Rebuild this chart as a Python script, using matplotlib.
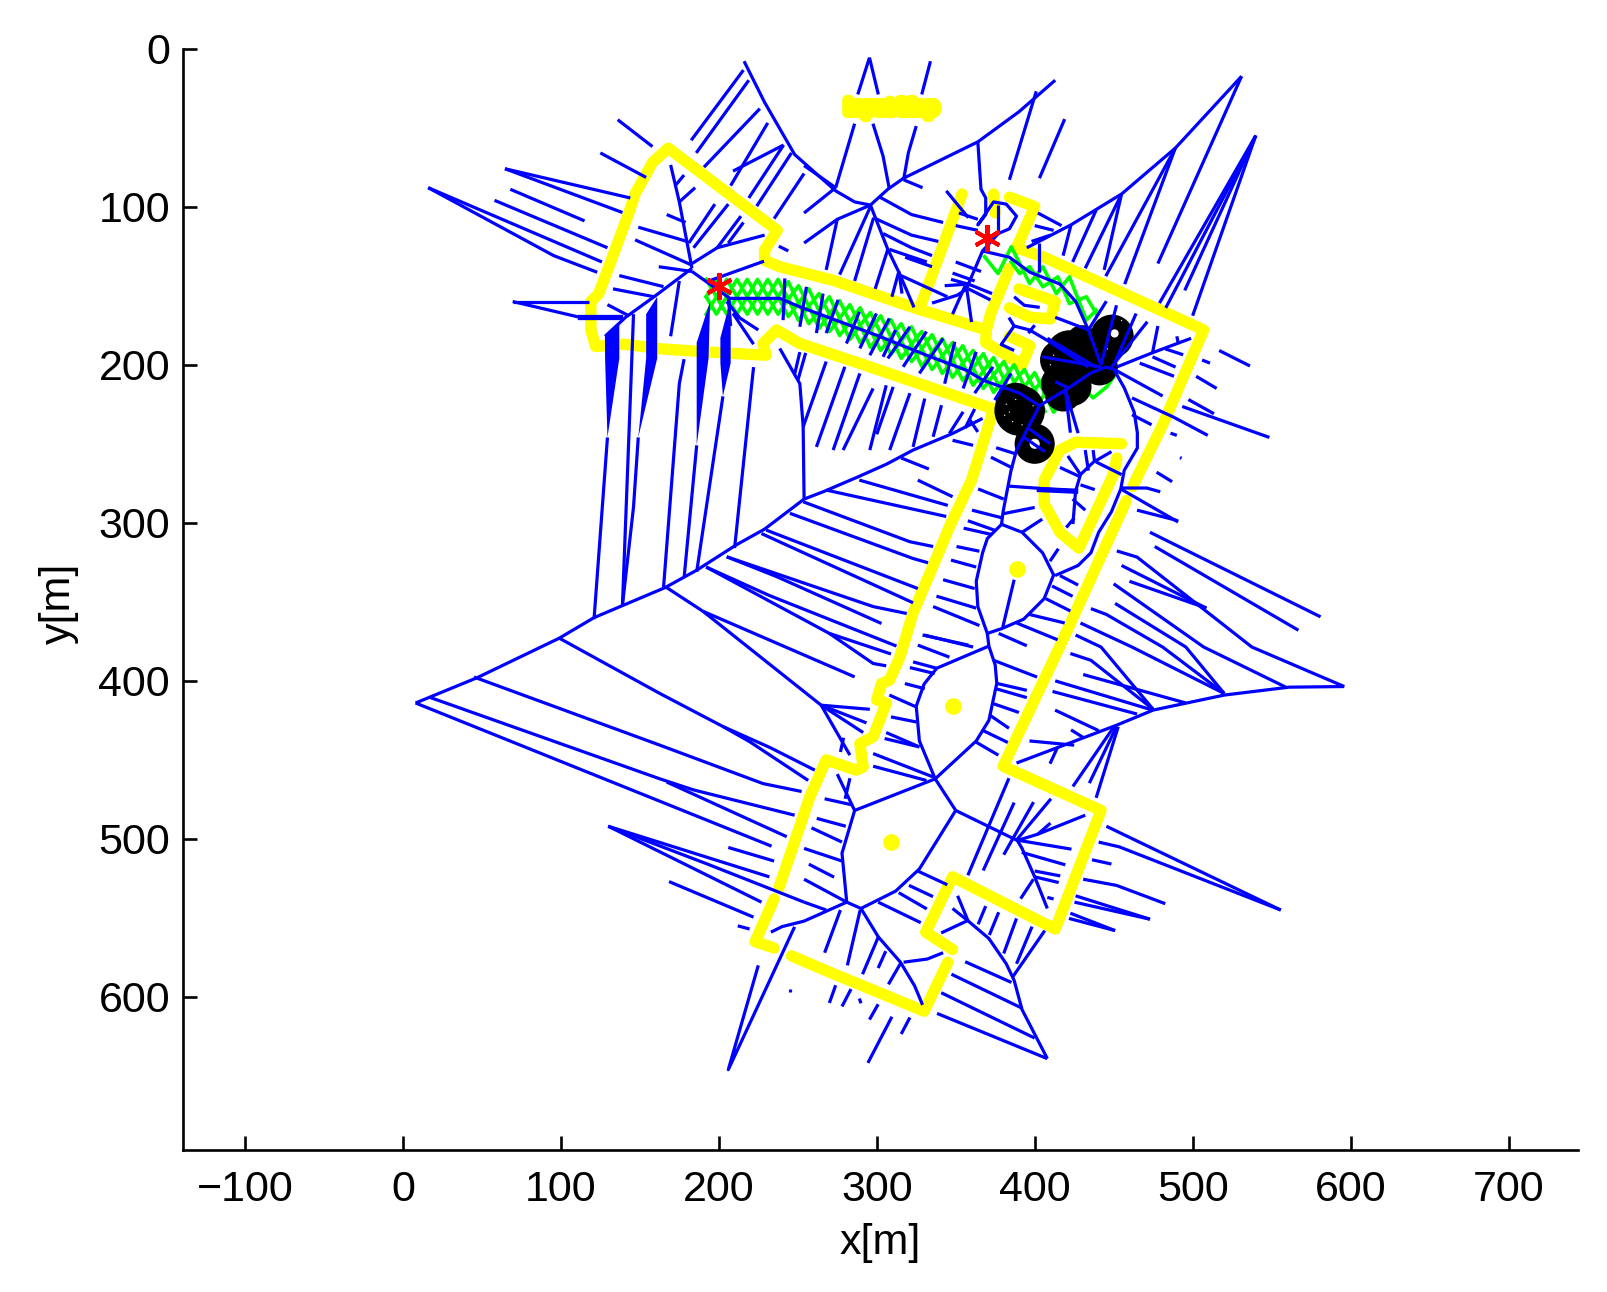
import matplotlib
matplotlib.use("Agg")
import matplotlib.pyplot as plt
import matplotlib.patheffects as pe
from matplotlib.patches import Circle

plt.rcParams['font.family'] = ['Liberation Sans', 'DejaVu Sans']

x_ticks = [-100, 0, 100, 200, 300, 400, 500, 600, 700]
y_ticks = [0, 100, 200, 300, 400, 500, 600]

# Walls seen by the sensor (yellow), one list per connected run
walls = [
    [(229,127.5),(237,115),(168,63),(158,72),(147,92),(143,104),(124,155),(119,160),(119,178),(122,188.5),(140,187),(164,190),(194,192),(230,194),(228,186.6),(236.5,178),(251.3,186.6),(289.3,199.2),(374,228),(360,273),(346,302.5),(340,317),(323,357),(314.6,385),(308,399.6),(303,401.7),(300,412),(306,414),(297.7,435.4),(289.3,439.7),(291.4,454.4),(287,456.5),(268,450),(257.6,473.4),(238,531)],
    [(229,127.5),(229,134),(238.6,138),(272,146.5),(325,164.4),(369.4,178),(369,186),(392,200),(397,188),(384,182)],
    [(328,162),(354,92)],
    [(374,92),(375,104)],
    [(384,94),(400,100),(388.5,126),(406,132),(507,178),(481,238),(462,277)],
    [(458,286),(416,378),(380,454),(442,482),(413,557),(348,524),(331,559),(348,570)],
    [(345,578),(330,609),(267,583),(246,574)],
    [(235,538),(223,565),(235,569)],
    [(384,139),(372,168),(370,176)],
    [(390,152),(413,160),(410,171),(397,170),(384,164)],
    [(455,250),(426,249),(416,254),(406,273),(406,288),(416,306),(428,316),(450,269),(452,259)],
]
map_title = 'Input Map'
wall_dots_x = [388.5, 348.5, 309]
wall_dots_y = [329, 416, 502]

# Wavefront path (green), zigzags that cross each other
green_x = [192,198.5,205,211.5,218,224.5,231,237.5,244,250.5,257,263.5,270,276.5,283,289.5,296,302.5,309,315.5,322,328.5,335,341.5,348,354.5,361,367.5,374,380.5,387,393.5,400,406.5]
green_a = [146,157,146,157,146,157,146,157,147.5,161,152,166,157,170.5,162,175,167,180,171.5,185,176,190,181,194.5,186,199,191,204,195.5,209,200,214,205,218.5]
green_b = [157,146,157,146,157,146,157,146,158.5,150,163,155,168,159.5,173,164,178,169,182.5,174,187,179,192,183.5,197,188,202,193,206.5,198,211,203,216,207.5]
green_c = [157,168,157,168,157,168,157,168,158.5,172,163,177,168,181.5,173,186,178,191,182.5,196,187,201,192,205.5,197,210,202,215,206.5,220,211,225,216,229.5]
green_d = [168,157,168,157,168,157,168,157,169.5,161,174,166,179,170.5,184,175,189,180,193.5,185,198,190,203,194.5,208,199,213,204,217.5,209,222,214,227,218.5]
green_e = [(406,218),(412,230),(420,220),(424,225),(432,216),(437,221),(445.6,214),(452,205)]
green_f = [(368.3,131.7),(376.8,142.3),(385.2,125.4),(390.5,136),(396.8,148.6),(405.2,138),(413.7,155),(422,144.4),(432.7,171.8),(439,165.5)]
green_g = [(385.2,135),(390.5,142.3),(396.8,138),(405.2,150.7),(414.7,144.4),(422,161.3),(432.7,157),(439,167.6)]

# Skeleton of the free space (blue)
skeleton = [
    [(216,8),(229,34),(248,67),(274,90),(286,97),(296,99),(307,89),(317,82),(364,59),(390,40),(413,20)],
    [(274,88),(254,74)], [(274,88),(254,104)],
    [(296,99),(275,108),(254,123)], [(275,108),(268,140)],
    [(296,99),(307,127),(314,141.5),(323.6,163.7)],
    [(8,414),(47,398),(99,373),(121,360),(166,341),(186,330),(211,314),(229,304),(254,285),(267,280),(288,271),(306,263),(323,254),(348,243.5),(367,234)],
    [(254,285),(253.4,239),(251.3,212),(238.6,189.7)],
    [(183,141),(207,158),(238.6,158),(251.3,163.4),(299.8,181.3),(331.5,194),(356.8,203.5),(367.3,209.8),(390.5,218),(403,226),(421,215),(436,205),(445,201.5)],
    [(183,139),(159,157),(141,170),(128,182)],
    [(169.5,73.6),(175,97),(183,139)],
    [(183,136),(199,126),(229,118)],
    [(403,226),(388.5,254),(385,267),(380,293),(379,301),(370,310),(367,319),(363,337),(364,353),(370,370),(379,367),(393,361),(406,348),(412,333),(405,319),(392,306),(379,301)],
    [(370,370),(371,378),(375,390),(376,401.5),(371,425),(363,438),(337,462),(327,438),(325,416),(330,402),(338,392),(371,378)],
    [(337,462),(286,482),(278,509),(281,540),(290,544),(312,533),(327,519),(350,482),(337,462)],
    [(350,482),(389,501),(392,506),(400,524),(408,544)],
    [(389,501),(402,497),(432,485)], [(402,497),(410,490)],
    [(290,544),(301,562),(315,578),(324,593),(329,605)],
    [(317,578),(332,576),(342,572)],
    [(281,540),(254,552),(240,555.5),(233,559)],
    [(248,555.6),(206,646),(225,580)],
    [(348,544),(358,552),(371,563),(382,579),(387,589.5),(392,608),(408,639)],
    [(596,403.6),(561,404),(520,409),(475,418.5),(452,428),(423,439),(388.5,452)],
    [(531,17.5),(489,63),(455,92),(423,111.5),(395,126)],
    [(167,341),(190,356),(264.8,415.4)],
    [(364,59),(366,89),(369,94.5),(369,105),(364,111.5),(374,97),(382,98.4),(388.5,106),(384,114),(377,117),(367,128),(358,149),(357,152)],
    [(335,161),(351,156),(357,152),(360,173)],
    [(367,128),(384,132),(397,141.5),(416,149),(426,160),(434,178),(442,200)],
    [(445,201.5),(450,202.8),(456.7,214.6),(463,230),(465,243),(465,252.7),(456.7,266.8),(454.5,278.6),(448.6,293),(440.5,306),(435.6,319),(427.5,327),(412.9,333.4)],
    [(451.8,201.5),(474.6,192.4),(499,183.3)],
    [(383.7,276.8),(425.9,279.9),(424.2,300.8)],
    [(425.9,279.9),(429,269.5),(437.2,261.6),(448.6,255)],
    [(383.7,170.2),(387,175.5),(396.7,178),(408,184.6),(434,201.5)],
    [(387,175.5),(378.8,187.2),(387,191)],
    [(387,157),(393.4,162.4),(403.2,163.7)],
]

# Short spokes that run from the skeleton towards the walls (blue)
spokes = [
    # top centre and upper right
    [(295.4,5.7),(288,29)], [(295.4,5.7),(301,29)], [(334,8),(328.5,29)],
    [(286,47.5),(274,88)], [(297.6,47.5),(304,68),(308,89)], [(325,49),(320,66),(317,83)], [(317,83),(329,88)],
    [(276.5,143),(296,100)], [(286,147),(298,107)], [(299,152),(307,127)], [(309.6,157),(314,141)], [(314,143),(344.7,157)],
    [(302,94),(322,105),(342,110)], [(298,107),(322,118),(339,122)], [(304,117),(322,126),(335,131)], [(308,127),(331.7,135)],
    [(318,132),(335,138)], [(314,141),(316,155)], [(403,82),(419,44.6)], [(384,83),(401,27)],
    [(531,17.5),(478,136)], [(540,55),(479,161)], [(540,55),(483,164)], [(540,55),(495,153)], [(540,55),(500,169)],
    [(489,63),(445,144)], [(489,63),(457,149)], [(455,92),(432,139)], [(455,92),(444,140)],
    [(439,102),(424,135)], [(423,111.5),(418,131)], [(377,99),(377,117)], [(402.5,123),(402.5,141.5)],
    [(402,104),(417,112)], [(400,112),(412,115)], [(398,122),(410,118)],
    [(344,90),(358,107)], [(352,104),(364,108)], [(350,112),(364,115)], [(350,135),(366,141)], [(348,142),(362,147)], [(347,146),(358,149)],
    [(343,150),(358,149)], [(358,149),(373,155)], [(358,152),(372,159)], [(348,168),(356,150)],
    # left room
    [(215.6,13.6),(182.5,58)], [(219,20),(185.7,66)], [(226,38),(190.6,75)], [(231,47),(207.5,86.7)], [(241,61),(219,94.5)], [(241,61),(209,77.5)], [(246,66),(224,99.7)], [(254,79),(235,107.6)],
    [(136,45),(158,62)], [(125,66),(154,81.5)], [(64.6,76),(144,94.5)], [(64.6,76),(139,103.7)], [(68,89),(115,109)], [(58,96),(129.5,126)], [(16,88),(126,135)], [(16,88),(95.5,131),(123,141.5)],
    [(69.5,160),(112,170)], [(69.5,160),(117.5,160)], [(173,86),(178,80)], [(175,97),(185,88)], [(179,110),(167,105)], [(181,123),(197.5,98.4)], [(184,126),(206,98.4)], [(199,126),(214,106)], [(206,123),(215.6,110)],
    [(183,137),(147,121)], [(180,122),(149,113)], [(183,141),(162,138)], [(137,143.6),(165,150.6)], [(133,152),(159,157)], [(129.5,162),(143,169)], [(175,147),(169.5,182)], [(238,125),(244,128)], [(228.6,134.5),(194.5,146.7)],
    [(209,167.6),(225,178)], [(209,167.6),(222,187)], [(206,157),(207.5,175.5)], [(205,160),(213,170)],
    # below the left room
    [(129.5,246),(121,361)], [(146,168),(139,352)], [(149,246),(146,290),(139,352)], [(178,196.5),(175,212),(165,341)], [(186,251),(178,335)], [(202.6,220),(186,331)], [(222,201.5),(210,316)],
    [(251.3,192),(248,206)], [(255,192.5),(250,210)], [(268,198),(253.4,239.3)], [(279.8,201.3),(261.8,252)], [(289.3,205.5),(272.4,254)], [(297.7,215),(278.7,254)], [(306,213),(295.6,254)], [(310.4,214),(300,244)], [(321,218),(308.2,254)], [(330.4,221.4),(323,252)], [(341,225.6),(335.7,245.6)],
    [(354.7,229.8),(346,243.5)], [(359,235),(364,242.5)], [(348,247.8),(361,251)], [(356,240),(362,228)],
    # corridor crossings
    [(241.8,145.4),(240.7,171.8)], [(255.5,150.7),(251.3,176)], [(266,155),(261.8,180)], [(275.5,159),(268,180)], [(289,166.5),(280.8,186.6)], [(299.8,167.6),(289.3,189.7)], [(308,170.7),(295.6,194)], [(312,178),(304,195)], [(321,176),(307,196)], [(331.5,179),(316.7,201.3)], [(342,183.4),(327,205.5)], [(349.4,185.5),(343,212)], [(363,191.8),(354.7,215)], [(373.6,201.3),(362,218)], [(385,205.5),(374.7,222.4)],
    # fan under the long diagonal
    [(315.5,259),(333,266)], [(326,273),(348,283.5)], [(289,273),(345,289)], [(268,279.3),(344,296)],
    [(253.4,286.7),(321,312),(335.7,315)], [(245,294),(323,322.6),(332.5,325.3)], [(230,304.6),(326,341.6)], [(227,306.8),(323,350.6)],
    [(205,321.5),(297.7,353),(319,357.4)], [(205,321.5),(236.5,334),(303,363.7)], [(192,328),(232,346),(312.5,378)], [(192,328),(270,370),(309,383)], [(270,370),(297.7,389),(306,390.5)],
    [(190,356),(286,397.5)], [(264.8,415.4),(295.6,418)], [(264.8,415.4),(293.5,426.6)], [(264.8,415.4),(291.4,432.7)], [(264.8,415.4),(283,447)], [(277,445),(279,436)],
    [(99,373),(162.7,408),(202.8,429),(232,442),(260.8,456.5)], [(202.8,429),(219.7,438.6),(256.6,463)], [(45,397.6),(162.7,440.7),(228,465),(252.4,470)], [(17.5,410.6),(162.7,462),(184,469),(210,475.5),(248,485)], [(8,414),(233.4,504.6)], [(167,464),(243,498.6)],
    [(206,505.4),(235,514)], [(130,492),(232,524)], [(130,492),(193,516),(254,540)], [(130,492),(227,540)], [(168.5,527),(222,549.5)], [(212,555),(219.5,557)], [(245,595),(245,597)],
    # lower left room
    [(254,525.5),(281,540)], [(254,506),(278,514)], [(258.7,493),(278,502)], [(262,487),(280.4,492)], [(257,516),(273,524.2)],
    [(275,459),(286,482)], [(283,461.6),(280,474.6)], [(267,474.6),(284.6,478.5)], [(254,540),(268,545)],
    [(329,371),(358,377.4)], [(326,377.4),(346,385)], [(323,388),(337.8,392)], [(321,391.6),(336.7,395.4)], [(317.8,401.7),(330.4,405)], [(308,409),(325,416.5)], [(309,422.8),(325,426)], [(306,432.7),(327,441.8)], [(305,436.5),(327,441.8)], [(297.7,446),(335.7,460.8)], [(297.7,454),(331.4,463)],
    [(374,387),(401.5,397.6)], [(375.5,401.5),(395,406)], [(375.5,405),(395,410.6)], [(374,414.5),(390,420)], [(372,422),(383.7,430)], [(367.4,431.5),(383,439)], [(362.6,438.6),(377,447)],
    [(350.5,315),(365,318)], [(347,323.6),(363,328)], [(342,336),(362,341.6)], [(337.8,346.4),(363,354)], [(335.7,353),(365,365)], [(330,371),(361,378.6)],
    [(416,333.4),(427.5,339.4)], [(411,340),(424,346.5)], [(407,348),(422.6,355.8)], [(396.7,358),(419,363.4)], [(388.6,363.4),(414.5,374)], [(377.2,370),(395,377.8)], [(387,336),(379.8,366)], [(409.7,324.3),(415,316.4)], [(392,306),(404.8,297.7)],
    [(372.3,258.5),(386.3,265.5)], [(375.6,252.5),(388,256.4)], [(364.2,278.6),(380.4,285)], [(360.3,292),(379.8,297)], [(357.7,298.7),(374.6,304.7)], [(355,303.4),(372.3,307.3)], [(380.4,294.2),(400,290.3)],
    # inner room near the obstacles
    [(421,257.7),(429,269.5)], [(432,254),(434,267)], [(437,254),(438,262)], [(416,265),(429,271)], [(429,276),(438,279)], [(424,285),(432,292)], [(420,303),(425,297)], [(439,261.6),(455,269.5)],
    [(455,278),(471,278),(479.5,280.4)], [(454.5,278.6),(490.8,299.5)], [(464.8,292),(490.8,298.7)],
    [(516.8,191),(536.3,200.8)], [(506,197),(511,199)], [(502.2,207.3),(515.2,215)], [(493.4,226.4),(548.6,246)], [(497.3,222),(513.5,231)], [(461.6,221),(487.6,233),(509.6,244.7)], [(450.2,202.9),(481,219.8)], [(461.6,231.6),(474,238)], [(486,243.3),(490,244.7)], [(492,258.7),(493,259.2)], [(477.2,268),(487,274)],
    [(474.6,192.4),(478,175.5)], [(482.7,190),(494,193.7)], [(490,182),(491,187)], [(474.6,195),(489.2,201.5)], [(466.5,199),(488.2,207.3)],
    [(442,200),(451.8,162.4)], [(448.6,201.5),(471.3,172.8)], [(450.2,200),(464.2,167.6)], [(434,178),(445.4,159.8)],
    [(427.5,243.3),(419.4,215.9),(422.6,243)], [(442,201.5),(404.8,195)], [(438.9,201.5),(408,183.3)], [(413,170),(434,178)], [(421,214.6),(413,210.7)], [(396.7,240.7),(409.7,250)], [(393.4,246),(406.4,255)], [(396,180),(400,175)],
    # lower right
    [(383.7,461.6),(357.7,523)], [(387,477),(367.4,520)], [(399.3,476.7),(380.4,510)], [(410.3,474.6),(388.5,500.7)], [(388.5,500.7),(423.3,506.5)], [(391.8,508.5),(419.4,516.4)], [(400,520.3),(416.2,523.4)], [(400,524),(415.2,527.6)], [(399.2,525.5),(391.1,537.8)], [(408,537),(412,538)],
    [(325.9,520.3),(344.7,529)], [(320.4,529.4),(335.6,536.5)], [(313.9,534),(331.7,544.3)], [(300.9,540),(327.9,553)],
    [(445.4,492),(555.8,545)], [(440.5,502),(453.5,505),(555.8,545)], [(436.3,513.2),(448.6,515.9)], [(430.7,525.5),(451.8,529.4),(482.7,541)], [(425.9,536),(473,550.8)], [(425.2,540),(473,550.8)], [(422.6,547),(450.9,558)], [(421.7,550.3),(450.9,558)],
    [(277,545),(267,572)], [(281.4,580),(289.5,545)], [(291,585.6),(301,562)], [(300.9,581.7),(305.7,571)], [(307.4,592),(315.5,578)], [(270,603.8),(274,592.6)], [(278,606),(283.7,595)], [(289,601),(290,604)], [(295.4,614.3),(300.9,604.6)], [(315.5,623.4),(321,613)], [(294.4,641.7),(309.6,612.5)],
    [(338.2,610.4),(408,639)], [(340.8,597.3),(400,626)], [(347.3,585.6),(391.8,607)], [(356,577.7),(385.3,590.8)],
    [(406.4,558),(386.3,587)], [(398.3,555.5),(388.5,579)], [(388.5,550.3),(380.4,572.5)], [(377.2,546.4),(371.3,560.8)], [(369,542.5),(364.2,554)], [(357.7,551.6),(351.2,536)], [(357.7,551.6),(340.8,559.5)],
    # lower right outside the long wall
    [(581,359.5),(473,306)], [(567,368),(476,315)], [(452,317.8),(464.8,321.7),(537.5,378.6),(596,403.6)], [(455,327),(508.7,354)], [(460,337),(508.7,354)], [(450,338.6),(507,378.6),(559,404)], [(450.9,351),(495.7,378.6),(520,408)], [(435.6,354.3),(445.4,358),(481,378.6),(520,408)], [(429,363.4),(461.6,378.6),(520,408)], [(425.9,371),(442,378.6),(475,418)],
    [(422.6,382.7),(435.6,387),(475,418)], [(430.7,396),(495.7,414)], [(413,400),(474.6,418.5)], [(411.3,406.7),(464.8,421)], [(412.9,418.5),(440.5,431.5)], [(423,431),(431,436)], [(396.7,438),(425,440.7)], [(409.7,452.4),(414.5,442)],
    [(424.2,466.8),(450.2,429)], [(434.6,464.7),(451.8,429)], [(438.9,474),(452.9,429)],
]

# Filled wedges of nearly coincident spokes (blue)
wedges = [
    [(127.9,182),(137,174),(137,196),(129.5,246),(128,196)],
    [(154,168),(161,157),(161,196),(149,246),(154,196)],
    [(186,186),(194.5,160),(193.5,196),(186,251),(186,196)],
    [(201,183),(207.5,158.5),(207.5,199),(202.6,220),(201,199)],
]
thick_bits = [[(112,170),(137.5,170)], [(403,279),(425.9,280)]]

# Obstacles (black) as centre x, centre y, radius
obst_x = [449, 416, 426.5, 439, 418, 424, 390.5, 388, 400, 430, 441, 422, 432.7, 416]
obst_y = [182, 197, 191, 199, 218, 214, 229, 224, 250, 185, 201.5, 193, 193, 212]
obst_r = [13.7, 12.6, 13, 12.6, 11.6, 12, 16, 12.6, 12.7, 10, 11.6, 14.8, 12.7, 12]
hole_x = [450.6, 400, 382, 384, 386, 388, 392, 399, 381, 410, 412, 455, 458, 446]
hole_y = [180.2, 250, 225, 230, 236, 222, 238, 226, 232, 200, 194, 172, 190, 190]
hole_r = [2.6, 3.2, .4, .4, .4, .4, .4, .4, .4, .4, .4, .4, .4, .4]

start_x = [200, 370]
start_y = [150, 120]

fig = plt.figure(figsize=(16.08, 12.92), dpi=100)
W, H = 1608, 1292
ax = fig.add_axes([182.6/W, (H-1150.3)/H, (1578-182.6)/W, (1150.3-48.6)/H])

BLUE = '#0000ff'
YEL = '#ffff00'
GREEN = '#00ff00'

for w in walls:
    ax.plot(*zip(*w), color=YEL, lw=8.2, solid_capstyle='round', solid_joinstyle='round', zorder=2)
ax.text(309.5, 38, map_title, color=YEL, fontsize=14, fontweight='bold', ha='center', va='center', zorder=2,
        path_effects=[pe.withStroke(linewidth=7, foreground=YEL)])
ax.plot(wall_dots_x, wall_dots_y, 'o', color=YEL, ms=12, mec='none', zorder=2)

for gy in (green_a, green_b, green_c, green_d):
    ax.plot(green_x, gy, color=GREEN, lw=2.6, zorder=3)
for g in (green_e, green_f, green_g):
    ax.plot(*zip(*g), color=GREEN, lw=2.6, zorder=3)

for cx, cy, r in zip(obst_x, obst_y, obst_r):
    ax.add_patch(Circle((cx, cy), r, fc='black', ec='none', zorder=4))
for cx, cy, r in zip(hole_x, hole_y, hole_r):
    ax.add_patch(Circle((cx, cy), r, fc='white', ec='none', zorder=4.5))

for s in skeleton + spokes:
    ax.plot(*zip(*s), color=BLUE, lw=2.3, solid_capstyle='butt', zorder=5)
for w in wedges:
    ax.fill(*zip(*w), color=BLUE, lw=0, zorder=5)
for s in thick_bits:
    ax.plot(*zip(*s), color=BLUE, lw=3.8, zorder=5)

ax.plot(start_x, start_y, linestyle='none', marker=(6, 2, 0), color='#ff0000', ms=19.5, mew=2.9, zorder=6)

ax.set_xlim(-139.5, 744)
ax.set_ylim(697, 0)
ax.set_xticks(x_ticks)
ax.set_yticks(y_ticks)
ax.spines['top'].set_visible(False)
ax.spines['right'].set_visible(False)
for sp in ax.spines.values():
    sp.set_linewidth(1.9)
ax.tick_params(direction='in', length=10, width=1.9, labelsize=31, color='black')
ax.tick_params(axis='x', pad=14)
ax.tick_params(axis='y', pad=9)
ax.set_xlabel('x[m]', fontsize=31, va='center')
ax.set_ylabel('y[m]', fontsize=31, va='center')
ax.xaxis.set_label_coords((880-182.6)/(1578-182.6), (1150.3-1243)/(1150.3-48.6), transform=ax.transAxes)
ax.yaxis.set_label_coords((59-182.6)/(1578-182.6), (1150.3-603)/(1150.3-48.6), transform=ax.transAxes)

fig.savefig('out.png', dpi=100)
